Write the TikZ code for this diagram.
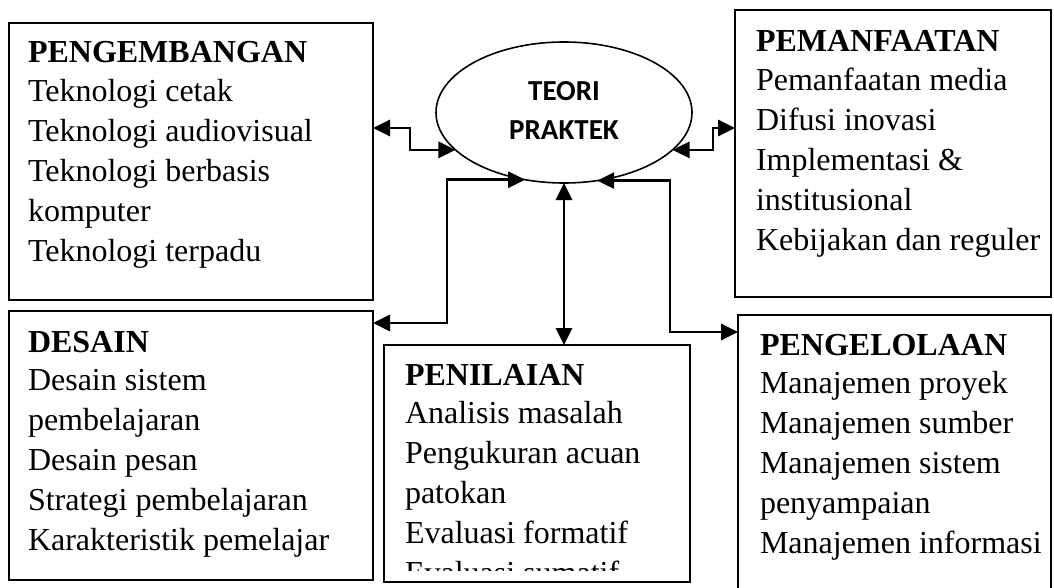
\documentclass[tikz,border=0pt]{standalone}
\usepackage{fontspec}
\setmainfont{Liberation Serif}
\newfontfamily\labelsans{Carlito}
\usetikzlibrary{arrows.meta,shapes.geometric}

\begin{document}
\begin{tikzpicture}[x=1pt,y=-1pt,
  panel/.style={draw, line width=2pt, inner sep=0pt, outer sep=0pt, anchor=north west},
  panel text/.style={anchor=base west, inner sep=0pt, outer sep=0pt,
    font=\fontsize{32}{40}\selectfont},
  link/.style={line width=2.7pt,
    {Triangle[length=17pt,width=16pt]}-{Triangle[length=17pt,width=16pt]}},
]
\clip (0,0) rectangle (1054,588);
\fill[white] (0,0) rectangle (1054,588);

% the five fields, drawn as framed panels
\node[panel, minimum width=364pt, minimum height=277pt] (pengembangan) at (9,23) {};
\node[panel, minimum width=316pt, minimum height=287pt] (pemanfaatan) at (735,10) {};
\node[panel, minimum width=364pt, minimum height=269pt] (desain) at (9,311) {};
\node[panel, minimum width=306pt, minimum height=237pt] (penilaian) at (384,345) {};
\node[panel, minimum width=313pt, minimum height=290pt] (pengelolaan) at (738,315) {};

% central idea
\node[draw, ellipse, line width=1.6pt, inner sep=0pt, outer sep=0pt,
  minimum width=256pt, minimum height=141pt,
  font=\labelsans\bfseries\fontsize{29}{38.6}\selectfont] (teori) at (564,112.5)
  {\begin{tabular}{@{}c@{}}TEORI\\PRAKTEK\end{tabular}};

% panel contents
\node[panel text] (pengembangan text) at (28,63) {\begin{tabular}[t]{@{}l@{}}
  \textbf{PENGEMBANGAN}\\[-1.5pt] Teknologi cetak\\ Teknologi audiovisual\\
  Teknologi berbasis\\ komputer\\ Teknologi terpadu\end{tabular}};
\node[panel text] (pemanfaatan text) at (756,52) {\begin{tabular}[t]{@{}l@{}}
  \textbf{PEMANFAATAN}\\[-1.5pt] Pemanfaatan media\\ Difusi inovasi\\
  Implementasi \&\\ institusional\\ Kebijakan dan reguler\end{tabular}};
\node[panel text] (desain text) at (28,352) {\begin{tabular}[t]{@{}l@{}}
  \textbf{DESAIN}\\[-1.5pt] Desain sistem\\ pembelajaran\\ Desain pesan\\
  Strategi pembelajaran\\ Karakteristik pemelajar\end{tabular}};
\begin{scope}
  \clip (384,345) rectangle (690,570);
  \node[panel text] (penilaian text) at (405,385) {\begin{tabular}[t]{@{}l@{}}
    \textbf{PENILAIAN}\\[-1.5pt] Analisis masalah\\ Pengukuran acuan\\ patokan\\
    Evaluasi formatif\\ Evaluasi sumatif\end{tabular}};
\end{scope}
\node[panel text] (pengelolaan text) at (760,355) {\begin{tabular}[t]{@{}l@{}}
  \textbf{PENGELOLAAN}\\[-1.5pt] Manajemen proyek\\ Manajemen sumber\\ Manajemen sistem\\
  penyampaian\\ Manajemen informasi\end{tabular}};

% connectors between the centre and the fields
\coordinate (ya) at (0,128);
\coordinate (yc) at (0,323);
\coordinate (yd) at (0,332);
\draw[link] (teori.199) -| (410,128) -- (pengembangan.east |- ya);
\draw[link] (teori.341) -| (713,128) -- (pemanfaatan.west |- ya);
\draw[link] (teori.240) -| (447,323) -- (desain.east |- yc);
\draw[link] (teori.296) -| (670,332) -- (pengelolaan.west |- yd);
\draw[link] (teori.south) -- (teori.south |- penilaian.north);
\end{tikzpicture}
\end{document}
